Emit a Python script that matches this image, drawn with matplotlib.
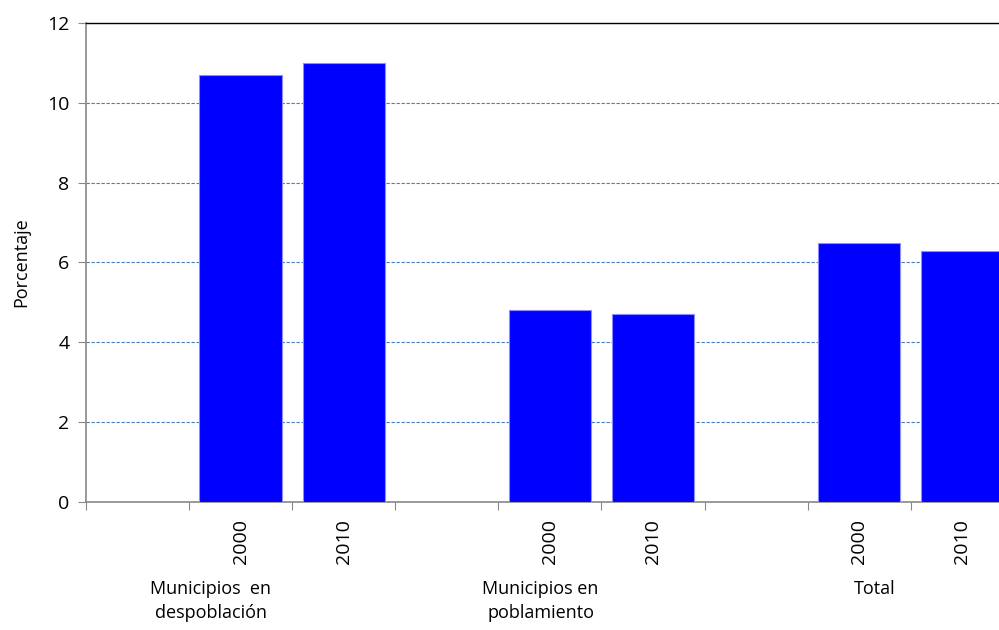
import matplotlib
matplotlib.use("Agg")
import matplotlib.pyplot as plt
import matplotlib.transforms as mtransforms
import numpy as np

plt.rcParams['font.family'] = ['Open Sans', 'DejaVu Sans']

# slots: blank spacer + two years per group
years = ['', '2000', '2010', '', '2000', '2010', '', '2000', '2010']
values = [np.nan, 10.7, 11.0, np.nan, 4.82, 4.7, np.nan, 6.48, 6.28]
groups = ['Municipios  en\ndespoblación', 'Municipios en\npoblamiento', 'Total']
group_pos = [0.71, 3.91, 7.15]

fig = plt.figure(figsize=(9.99, 6.3), dpi=100)
ax = fig.add_axes([0.0861, 0.2032, 0.9288, 0.7603])

x = np.arange(len(years))
ax.bar(x, values, width=0.8, color='#0000ff', edgecolor='#8c8cff', linewidth=0.8, zorder=3)

ax.set_xlim(-0.5, len(years) - 0.5)
ax.set_ylim(0, 12)
ax.set_yticks(np.arange(0, 13, 2))
ax.yaxis.grid(True, color='#4a7ebb', linestyle=(0, (3, 1.5)), linewidth=0.8, zorder=0)

# tick marks on the slot boundaries, year labels in the middle
ax.set_xticks(np.arange(-0.5, len(years), 1.0))
ax.set_xticklabels([])
ax.set_xticks(x, minor=True)
ax.set_xticklabels(years, minor=True, rotation=90, fontsize=14)
ax.tick_params(axis='x', which='major', length=6, color='#888888', direction='out')
ax.tick_params(axis='x', which='minor', length=0, pad=12)
ax.tick_params(axis='y', length=6, color='#888888', labelsize=14, pad=6)

for side in ['left', 'bottom']:
    ax.spines[side].set_color('#888888')
    ax.spines[side].set_linewidth(1.2)
ax.spines['top'].set_color('black')
ax.spines['top'].set_linewidth(1.0)
ax.spines['right'].set_visible(False)

ax.set_ylabel('Porcentaje', fontsize=13, labelpad=12)

trans = mtransforms.blended_transform_factory(ax.transData, fig.transFigure)
for name, pos in zip(groups, group_pos):
    ax.text(pos, 0.080, name, transform=trans, ha='center', va='top',
            fontsize=13, linespacing=1.45)

fig.savefig('out.png', dpi=100)
